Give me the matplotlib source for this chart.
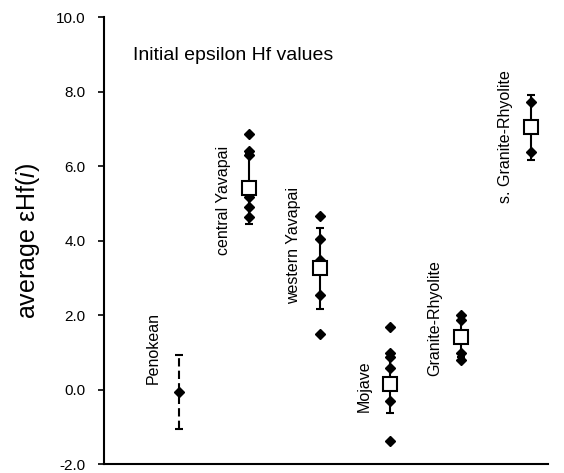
import matplotlib
matplotlib.use("Agg")
import matplotlib.pyplot as plt
from matplotlib.ticker import FormatStrFormatter

plt.rcParams["font.family"] = ["Liberation Sans", "DejaVu Sans"]
plt.rcParams["axes.unicode_minus"] = False
plt.rcParams["mathtext.fontset"] = "custom"
plt.rcParams["mathtext.it"] = "Liberation Sans:italic"
plt.rcParams["mathtext.rm"] = "Liberation Sans"

# ── data ───────────────────────────────────────────────────────────────────
groups = ["Penokean", "central Yavapai", "western Yavapai", "Mojave",
          "Granite-Rhyolite", "s. Granite-Rhyolite"]
means = [-0.06, 5.40, 3.25, 0.16, 1.42, 7.04]
errs = [1.00, 0.95, 1.08, 0.80, 0.55, 0.88]
samples = [
    [],
    [6.85, 6.39, 6.29, 5.18, 4.91, 4.62],
    [4.67, 4.05, 3.47, 2.55, 1.50],
    [1.69, 0.97, 0.86, 0.59, -0.32, -1.39],
    [1.99, 1.86, 0.98, 0.79],
    [7.71, 6.37],
]
label_y = [0.16, 3.6, 2.3, -0.6, 0.35, 5.0]   # where each rotated label starts

fig = plt.figure(figsize=(5.64, 4.73), dpi=100)
ax = fig.add_axes([0.184, 0.019, 0.788, 0.945])

xs = list(range(1, len(groups) + 1))
for i, (x, m, e, pts) in enumerate(zip(xs, means, errs, samples)):
    if i == 0:
        # Penokean: dashed bar, small diamond mean
        eb = ax.errorbar(x, m, yerr=e, fmt="D", color="black", ms=5,
                         ecolor="black", elinewidth=1.5, capsize=3, capthick=1.5,
                         zorder=2)
        eb[2][0].set_linestyle((0, (4, 2)))
        continue
    ax.errorbar(x, m, yerr=e, fmt="none", ecolor="black", elinewidth=1.5,
                capsize=3, capthick=1.5, zorder=2)
    ax.plot([x] * len(pts), pts, "D", color="black", ms=5, zorder=3)
    ax.plot(x, m, "s", mfc="white", mec="black", mew=1.5, ms=10, zorder=4)

for x, g, ly in zip(xs, groups, label_y):
    ax.text(x - 0.37, ly, g, rotation=90, ha="center", va="bottom", fontsize=11.5)

ax.text(0.35, 8.98, "Initial epsilon Hf values", fontsize=14, ha="left", va="center")

ax.set_xlim(-0.065, 6.24)
ax.set_ylim(-2.0, 10.0)
ax.set_yticks([-2, 0, 2, 4, 6, 8, 10])
ax.yaxis.set_major_formatter(FormatStrFormatter("%.1f"))
ax.set_xticks([])
ax.tick_params(axis="y", direction="out", length=4, width=1.2, labelsize=11, pad=9)
for s in ["top", "right"]:
    ax.spines[s].set_visible(False)
for s in ["left", "bottom"]:
    ax.spines[s].set_linewidth(1.5)
ax.set_ylabel(r"average εHf($\mathit{i}$)", fontsize=18, labelpad=10)

fig.savefig("out.png", dpi=100)
